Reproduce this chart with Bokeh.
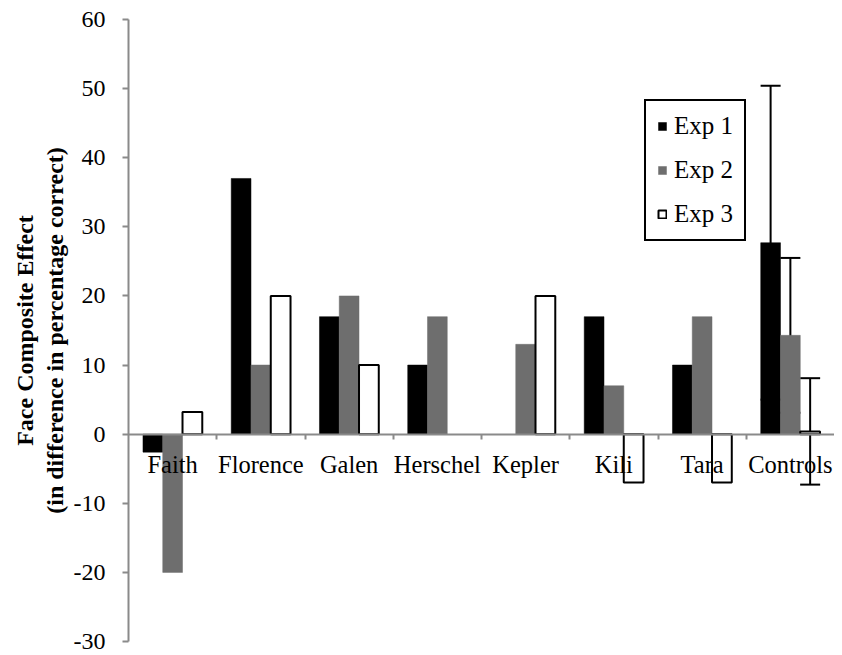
import numpy as np
from bokeh.plotting import figure
from bokeh.models import (ColumnDataSource, FixedTicker, LinearAxis, Range1d,
                          Legend, LegendItem, Whisker, TeeHead)
from bokeh.embed import file_html
from bokeh.resources import INLINE

# ---- data ----
categories = ["Faith", "Florence", "Galen", "Herschel", "Kepler", "Kili", "Tara", "Controls"]
series_names = ["Exp 1", "Exp 2", "Exp 3"]
exp1 = [-2.6, 37, 17, 10, float("nan"), 17, 10, 27.7]
exp2 = [-20, 10, 20, 17, 13, 7, 17, 14.3]
exp3 = [3.2, 20, 10, float("nan"), 20, -7, -7, 0.4]
controls_err = [22.7, 11.2, 7.7]   # error bars of Controls (Exp 1, 2, 3)
y_ticks = [-30, -20, -10, 0, 10, 20, 30, 40, 50, 60]
y_tick_labels = ["-30", "-20", "-10", "0", "10", "20", "30", "40", "50", "60"]

FONT = "Liberation Serif"
AXIS_GRAY = "#8a8a8a"

n = len(categories)
centers = np.arange(n) + 0.5
bar_w = 0.224
offsets = [-bar_w, 0.0, bar_w]

p = figure(width=834, height=655, output_backend="svg", toolbar_location=None,
           x_range=Range1d(0, n), y_range=Range1d(y_ticks[0], y_ticks[-1]),
           x_axis_location=None, y_axis_location="left",
           min_border_left=128, min_border_right=0, min_border_top=19,
           min_border_bottom=14)
p.outline_line_color = None
p.xgrid.grid_line_color = None
p.ygrid.grid_line_color = None
p.background_fill_color = "white"

styles = [
    dict(fill_color="#000000", line_color="#000000", line_width=0.5),
    dict(fill_color="#6e6e6e", line_color="#6e6e6e", line_width=0.5),
    dict(fill_color="#ffffff", line_color="#000000", line_width=2),
]
renderers = []
for vals, off, st in zip([exp1, exp2, exp3], offsets, styles):
    src = ColumnDataSource(dict(x=centers + off, top=vals))
    r = p.vbar(x="x", top="top", bottom=0, width=bar_w, source=src, **st)
    renderers.append(r)

# error bars for Controls
ctrl_idx = n - 1
ctrl_means = [exp1[ctrl_idx], exp2[ctrl_idx], exp3[ctrl_idx]]
err_src = ColumnDataSource(dict(
    base=[centers[ctrl_idx] + o for o in offsets],
    upper=[m + e for m, e in zip(ctrl_means, controls_err)],
    lower=[m - e for m, e in zip(ctrl_means, controls_err)],
))
wh = Whisker(source=err_src, base="base", upper="upper", lower="lower",
             dimension="height", line_color="black", line_width=2,
             upper_head=TeeHead(size=20, line_color="black", line_width=2),
             lower_head=TeeHead(size=20, line_color="black", line_width=2))
p.add_layout(wh)

# y axis
yax = p.yaxis[0]
yax.ticker = FixedTicker(ticks=y_ticks)
yax.major_label_overrides = {t: s for t, s in zip(y_ticks, y_tick_labels)}
yax.minor_tick_line_color = None
yax.major_tick_out = 6
yax.major_tick_in = 0
yax.major_tick_line_color = AXIS_GRAY
yax.major_tick_line_width = 2
yax.axis_line_color = AXIS_GRAY
yax.axis_line_width = 2
yax.major_label_text_font = FONT
yax.major_label_text_font_size = "24px"
yax.major_label_text_color = "black"
yax.major_label_standoff = 17
yax.axis_label = "Face Composite Effect\n(in difference in percentage correct)"
yax.axis_label_text_font = FONT
yax.axis_label_text_font_style = "bold"
yax.axis_label_text_font_size = "24px"
yax.axis_label_text_color = "black"
yax.axis_label_text_line_height = 1.15
yax.axis_label_standoff = 3

# x axis at y = 0: labels at category centres
xlab = LinearAxis(ticker=FixedTicker(ticks=list(centers)), fixed_location=0,
                  major_label_overrides={float(c): name for c, name in zip(centers, categories)})
xlab.major_tick_line_color = None
xlab.minor_tick_line_color = None
xlab.axis_line_color = AXIS_GRAY
xlab.axis_line_width = 2
xlab.major_label_text_font = FONT
xlab.major_label_text_font_size = "24.5px"
xlab.major_label_text_color = "black"
xlab.major_label_standoff = 11
p.add_layout(xlab, "below")

# tick marks at category boundaries
xtk = LinearAxis(ticker=FixedTicker(ticks=list(range(1, n))), fixed_location=0,
                 major_label_overrides={i: "" for i in range(1, n)})
xtk.major_label_text_font_size = "1px"
xtk.axis_line_color = None
xtk.minor_tick_line_color = None
xtk.major_tick_in = 0
xtk.major_tick_out = 5
xtk.major_tick_line_color = AXIS_GRAY
xtk.major_tick_line_width = 2
p.add_layout(xtk, "below")

legend = Legend(items=[LegendItem(label=nm, renderers=[r]) for nm, r in zip(series_names, renderers)],
                location=(516, 400), orientation="vertical",
                label_text_font=FONT, label_text_font_size="25px", label_text_color="black",
                glyph_width=10, glyph_height=10, label_height=24, label_standoff=7,
                spacing=16, padding=11, margin=0,
                border_line_color="black", border_line_width=2, border_line_alpha=1.0,
                background_fill_color="white", background_fill_alpha=1.0)
p.add_layout(legend)

open("out.html", "w").write(file_html(p, INLINE))
